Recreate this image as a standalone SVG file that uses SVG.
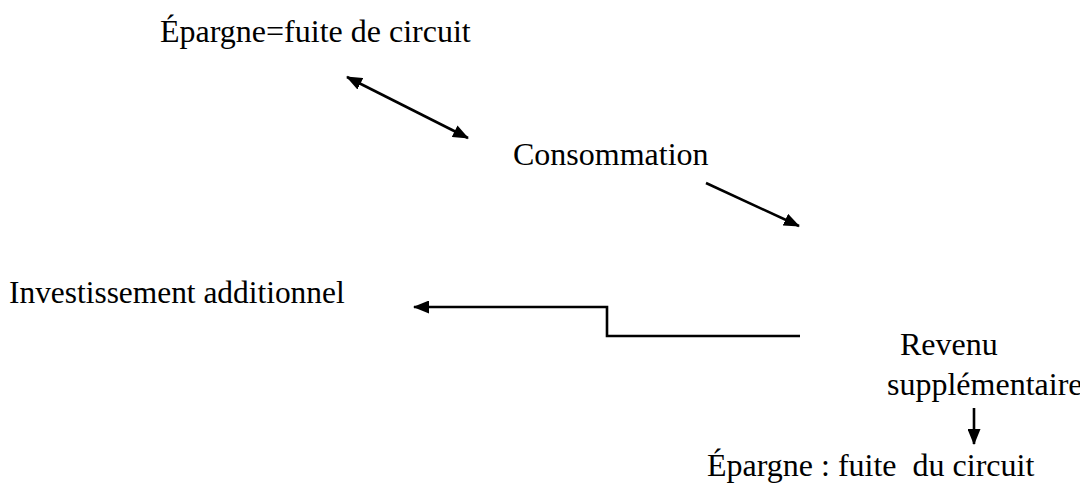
<svg xmlns="http://www.w3.org/2000/svg" width="1080" height="484" viewBox="0 0 1080 484">
  <style>
    text { font-family: "Liberation Serif", "Times New Roman", serif; font-size: 32px; fill: #000; white-space: pre; }
    .link { stroke: #000; stroke-width: 2.6; fill: none; }
  </style>
  <defs>
    <marker id="head" viewBox="0 0 16 13" refX="15" refY="6.5" markerWidth="16" markerHeight="13" markerUnits="userSpaceOnUse" orient="auto-start-reverse">
      <path d="M0,0 L16,6.5 L0,13 z" fill="#000"/>
    </marker>
  </defs>
  <rect width="1080" height="484" fill="#fff"/>

  <g id="epargne-haut"><text x="160" y="42">Épargne=fuite de circuit</text></g>
  <g id="consommation"><text x="513" y="165">Consommation</text></g>
  <g id="investissement"><text x="9" y="303" style="font-size:31.4px">Investissement additionnel</text></g>
  <g id="revenu" style="font-size:30.6px">
    <text x="900" y="355">Revenu</text>
    <text x="887" y="395">supplémentaire</text>
  </g>
  <g id="epargne-bas"><text x="707" y="476">Épargne : fuite  du circuit</text></g>

  <g id="connectors">
    <path class="link" d="M347,77 L468,138" marker-start="url(#head)" marker-end="url(#head)"/>
    <path class="link" d="M706,183 L799,226" marker-end="url(#head)"/>
    <path class="link" d="M800,336 L607,336 L607,307 L414,307" marker-end="url(#head)"/>
    <path class="link" d="M974,408 L974,444" marker-end="url(#head)"/>
  </g>
</svg>
